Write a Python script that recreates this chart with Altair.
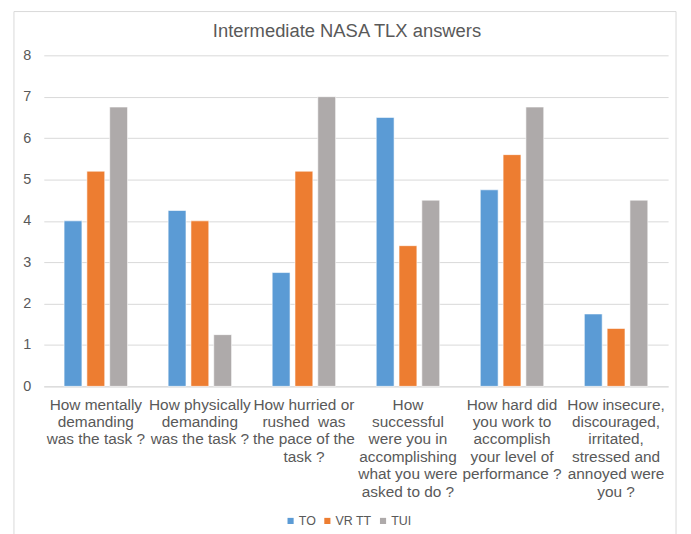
import altair as alt
import pandas as pd

categories = [
    "How mentally\ndemanding\nwas the task ?",
    "How physically\ndemanding\nwas the task ?",
    "How hurried or\nrushed\u00a0\u00a0was\nthe pace of the\ntask ?",
    "How\nsuccessful\nwere you in\naccomplishing\nwhat you were\nasked to do ?",
    "How hard did\nyou work to\naccomplish\nyour level of\nperformance ?",
    "How insecure,\ndiscouraged,\nirritated,\nstressed and\nannoyed were\nyou ?",
]
series = ["TO", "VR TT", "TUI"]
to_vals = [4.0, 4.25, 2.75, 6.5, 4.75, 1.75]
vrtt_vals = [5.2, 4.0, 5.2, 3.4, 5.6, 1.4]
tui_vals = [6.75, 1.25, 7.0, 4.5, 6.75, 4.5]
colors = ["#5B9BD5", "#ED7D31", "#AEAAAA"]
title_text = "Intermediate NASA TLX answers"

rows = []
for s, vals in zip(series, [to_vals, vrtt_vals, tui_vals]):
    for c, v in zip(categories, vals):
        rows.append({"category": c, "series": s, "value": v})
df = pd.DataFrame(rows)

W, H = 628, 333
font = "Liberation Sans"
txt = "#595959"

border = alt.Chart(pd.DataFrame({"a": [0]})).mark_rect(
    fill=None, filled=False, stroke="#d9d9d9", strokeWidth=1
).encode(
    x=alt.value(-30), x2=alt.value(636), y=alt.value(-44), y2=alt.value(500)
)

title = alt.Chart(pd.DataFrame({"t": [title_text]})).mark_text(
    fontSize=18.5, font=font, color=txt, baseline="alphabetic", align="center"
).encode(
    text="t:N", x=alt.value(305), y=alt.value(-18.5)
)

bars = alt.Chart(df).mark_bar(stroke="white", strokeWidth=0.6).encode(
    x=alt.X("category:N", sort=categories, title=None,
            scale=alt.Scale(paddingInner=0.39, paddingOuter=0.195),
            axis=alt.Axis(labelExpr="split(datum.label, '\\n')", labelAngle=0,
                          labelFontSize=15.5, labelColor=txt, labelFont=font,
                          labelLineHeight=17.5, labelPadding=11, labelLimit=0,
                          labelBaseline="top",
                          ticks=False, domainColor="#d9d9d9", grid=False)),
    xOffset=alt.XOffset("series:N", sort=series,
                        scale=alt.Scale(paddingInner=0.217, paddingOuter=0)),
    y=alt.Y("value:Q", title=None,
            scale=alt.Scale(domain=[0, 8]),
            axis=alt.Axis(values=list(range(0, 9)), labelFontSize=14.5, labelColor=txt,
                          labelFont=font, ticks=False, domain=False,
                          gridColor="#d9d9d9", labelPadding=13)),
    color=alt.Color("series:N", sort=series,
                    scale=alt.Scale(domain=series, range=colors),
                    legend=alt.Legend(title=None, orient="none", direction="horizontal",
                                      legendX=242, legendY=462,
                                      symbolType="square", symbolSize=38,
                                      symbolStrokeWidth=0,
                                      labelFontSize=12.5, labelColor=txt, labelFont=font,
                                      labelOffset=2, columnPadding=5, symbolOffset=0)),
)

chart = alt.layer(border, bars, title).properties(
    width=W, height=H,
    autosize=alt.AutoSizeParams(type="none"),
    padding={"left": 36, "top": 46, "right": 15, "bottom": 160},
).configure_view(stroke=None)

chart.save("out.html", embed_options={"renderer": "svg", "actions": False})
